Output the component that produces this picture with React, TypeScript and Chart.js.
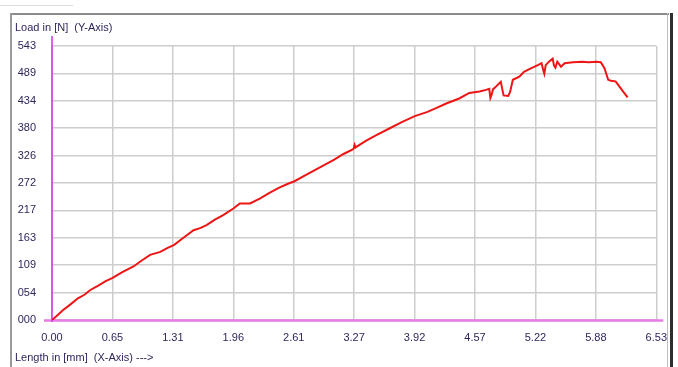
import React, { useEffect, useRef } from "react";
import { Chart, registerables } from "chart.js";

Chart.register(...registerables);

// Axis extents and the tick captions printed by the test software
const X_MAX = 6.53;
const Y_MAX = 543;
const X_TICK_LABELS = ["0.00", "0.65", "1.31", "1.96", "2.61", "3.27", "3.92", "4.57", "5.22", "5.88", "6.53"];
const Y_TICK_LABELS = ["000", "054", "109", "163", "217", "272", "326", "380", "434", "489", "543"];

// Extension (mm) against load (N)
const lengthMm = [
  0, 0.05, 0.12, 0.2, 0.28, 0.35, 0.41, 0.5, 0.58, 0.65, 0.75, 0.88, 0.97, 1.06, 1.17, 1.25, 1.32,
  1.42, 1.53, 1.6, 1.67, 1.76, 1.85, 1.96, 2.03, 2.14, 2.25, 2.35, 2.45, 2.55, 2.62, 2.75, 2.85,
  2.95, 3.05, 3.15, 3.25, 3.26, 3.27, 3.28, 3.4, 3.5, 3.65, 3.78, 3.92, 4.05, 4.15, 4.26, 4.4,
  4.51, 4.62, 4.69, 4.725, 4.737, 4.75, 4.765, 4.8, 4.85, 4.865, 4.88, 4.93, 4.95, 4.98, 5.05, 5.1,
  5.18, 5.25, 5.29, 5.31, 5.32, 5.335, 5.37, 5.41, 5.425, 5.44, 5.46, 5.5, 5.54, 5.63, 5.73, 5.8,
  5.88, 5.93, 5.97, 6.01, 6.04, 6.09, 6.13, 6.17, 6.22,
];
const loadN = [
  0, 8, 20, 31, 43, 50, 59, 68, 77, 83, 94, 106, 118, 129, 135, 143, 149,
  163, 178, 182, 188, 199, 208, 221, 231, 231, 241, 252, 262, 270, 275, 288, 298,
  308, 318, 329, 338, 340, 347, 342, 356, 366, 380, 392, 404, 412, 420, 429, 439,
  450, 453, 456, 458, 440, 446, 457, 463, 472, 458, 445, 444, 452, 476, 482, 492,
  499, 505, 509, 494, 488, 505, 512, 518, 504, 500, 512, 502, 509, 511, 512, 511,
  512, 511, 499, 476, 474, 473, 463, 453, 441,
];

const TEXT_COLOR = "#2e275e";
const FONT = { family: "'Liberation Sans', Arial, sans-serif", size: 11 };

const evenTicks = (labels: string[], max: number) => (scale: any) => {
  scale.ticks = labels.map((_, i) => ({ value: (i * max) / (labels.length - 1) }));
};

// Magenta zero axes that run a little past the plot area
const zeroAxes = {
  id: "zeroAxes",
  beforeDatasetsDraw(chart: any) {
    const { ctx, scales } = chart;
    const x0 = scales.x.getPixelForValue(0);
    const y0 = scales.y.getPixelForValue(0);
    const xEnd = scales.x.getPixelForValue(X_MAX);
    const yTop = scales.y.getPixelForValue(Y_MAX);
    ctx.save();
    ctx.strokeStyle = "#e67be6";
    ctx.lineWidth = 2.5;
    ctx.beginPath();
    ctx.moveTo(x0 - 8, y0 + 0.5);
    ctx.lineTo(xEnd + 7, y0 + 0.5);
    ctx.stroke();
    ctx.strokeStyle = "#d63ae2";
    ctx.lineWidth = 1.6;
    ctx.beginPath();
    ctx.moveTo(x0, yTop - 10);
    ctx.lineTo(x0, y0 + 2);
    ctx.stroke();
    ctx.restore();
  },
};

export default function App() {
  const canvasRef = useRef<HTMLCanvasElement | null>(null);

  useEffect(() => {
    document.body.style.margin = "0";
    document.body.style.background = "#ffffff";
    const canvas = canvasRef.current;
    if (!canvas) return;
    const chart = new Chart(canvas, {
      type: "line",
      data: {
        datasets: [
          {
            data: lengthMm.map((x, i) => ({ x, y: loadN[i] })),
            borderColor: "#ee1515",
            borderWidth: 2,
            pointRadius: 0,
            tension: 0,
            fill: false,
          },
        ],
      },
      options: {
        animation: false,
        responsive: false,
        events: [],
        layout: { padding: { top: 46, right: 21, left: 0, bottom: 0 } },
        plugins: { legend: { display: false }, tooltip: { enabled: false }, title: { display: false } },
        scales: {
          x: {
            type: "linear",
            min: 0,
            max: X_MAX,
            afterBuildTicks: evenTicks(X_TICK_LABELS, X_MAX),
            afterFit: (s: any) => {
              s.height = 47;
            },
            grid: { color: "#cdcdcd", lineWidth: 1.5, drawTicks: false },
            border: { display: false },
            ticks: {
              autoSkip: false,
              maxRotation: 0,
              padding: 11,
              color: TEXT_COLOR,
              font: FONT,
              callback: (_v: any, i: number) => X_TICK_LABELS[i],
            },
          },
          y: {
            type: "linear",
            min: 0,
            max: Y_MAX,
            afterBuildTicks: evenTicks(Y_TICK_LABELS, Y_MAX),
            afterFit: (s: any) => {
              s.width = 52;
            },
            grid: { color: "#cdcdcd", lineWidth: 1.5, drawTicks: false },
            border: { display: false },
            ticks: {
              autoSkip: false,
              padding: 16,
              color: TEXT_COLOR,
              font: FONT,
              callback: (_v: any, i: number) => Y_TICK_LABELS[i],
            },
          },
        },
      },
      plugins: [zeroAxes],
    });
    return () => chart.destroy();
  }, []);

  const caption: React.CSSProperties = {
    position: "absolute",
    left: 15,
    font: "11px 'Liberation Sans', Arial, sans-serif",
    color: TEXT_COLOR,
    whiteSpace: "pre",
    lineHeight: "12px",
  };

  return (
    <div style={{ position: "relative", width: 678, height: 367, background: "#fff", overflow: "hidden" }}>
      <canvas ref={canvasRef} width={678} height={367} style={{ position: "absolute", left: 0, top: 0 }} />
      {/* window frame */}
      <div style={{ position: "absolute", left: 0, top: 5, width: 73, height: 1, background: "#dcdce6" }} />
      <div style={{ position: "absolute", left: 10, top: 13, width: 659, height: 2, background: "#8c8c8c" }} />
      <div style={{ position: "absolute", left: 10, top: 13, width: 2, height: 354, background: "#9a9a9a" }} />
      <div style={{ position: "absolute", left: 667, top: 13, width: 1, height: 354, background: "#bdbdbd" }} />
      <div style={{ position: "absolute", left: 670, top: 13, width: 3, height: 354, background: "#2e2e2e" }} />
      <span style={{ ...caption, top: 21 }}>Load in [N]  (Y-Axis)</span>
      <span style={{ ...caption, top: 351 }}>Length in [mm]  (X-Axis) ---&gt;</span>
    </div>
  );
}
